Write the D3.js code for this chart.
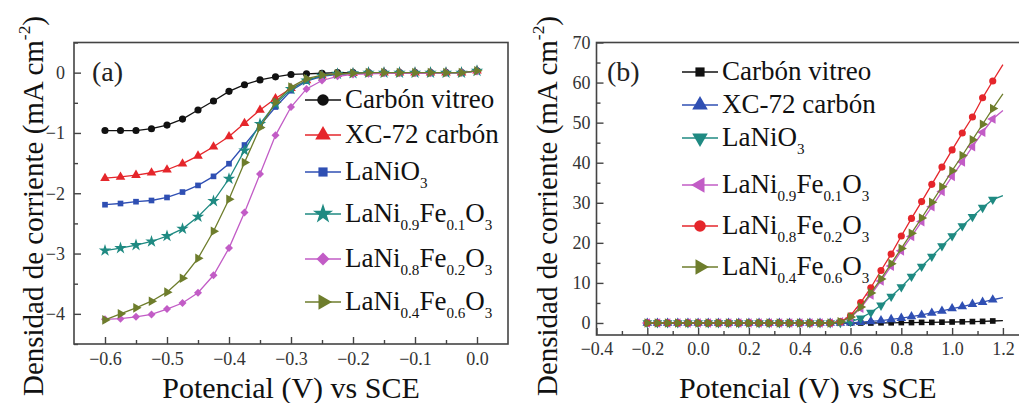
<!DOCTYPE html>
<html>
<head>
<meta charset="utf-8">
<script src="https://cdn.jsdelivr.net/npm/d3@7"></script>
<style>
  body { margin: 0; background: #fff; }
  svg, svg text { font-family: "Liberation Serif", "Times New Roman", Times, "DejaVu Serif", serif; }
</style>
</head>
<body>
<svg id="canvas" width="1019" height="403"></svg>
<script>
// panel (a) data
let xA = [-0.6, -0.575, -0.55, -0.525, -0.5, -0.475, -0.45, -0.425, -0.4, -0.375, -0.35, -0.325, -0.3,
          -0.275, -0.25, -0.225, -0.2, -0.175, -0.15, -0.125, -0.1, -0.075, -0.05, -0.025, 0.0]
let carbonA = [-0.96, -0.96, -0.96, -0.93, -0.87, -0.77, -0.62, -0.47, -0.31, -0.20, -0.12, -0.07, -0.03,
               -0.02, -0.01, 0, 0, 0, 0, 0, 0, 0, 0, 0, 0.03]
let xc72A = [-1.75, -1.73, -1.70, -1.66, -1.61, -1.51, -1.38, -1.23, -1.06, -0.84, -0.62, -0.43, -0.26,
             -0.13, -0.05, -0.02, -0.01, 0, 0, 0, 0, 0, 0, 0, 0.03]
let laniA = [-2.19, -2.17, -2.14, -2.12, -2.07, -1.98, -1.87, -1.72, -1.51, -1.20, -0.88, -0.57, -0.30,
             -0.14, -0.06, -0.03, -0.01, 0, 0, 0, 0, 0, 0, 0, 0.03]
let fe01A = [-2.95, -2.91, -2.86, -2.80, -2.71, -2.59, -2.39, -2.13, -1.76, -1.29, -0.85, -0.52, -0.27,
             -0.13, -0.05, -0.02, -0.01, 0, 0, 0, 0, 0, 0, 0, 0.03]
let fe02A = [-4.09, -4.08, -4.05, -4.01, -3.92, -3.82, -3.65, -3.36, -2.91, -2.32, -1.68, -1.04, -0.57,
             -0.27, -0.13, -0.06, -0.03, -0.02, -0.01, -0.01, -0.01, -0.01, 0, 0, 0.02]
let fe06A = [-4.10, -4.00, -3.90, -3.79, -3.64, -3.41, -3.08, -2.63, -2.10, -1.49, -0.91, -0.49, -0.24,
             -0.10, -0.04, -0.02, -0.01, 0, 0, 0, 0, 0, 0, 0, 0.03]

// panel (b) data
let xB = [-0.2, -0.16, -0.12, -0.08, -0.04, 0.0, 0.04, 0.08, 0.12, 0.16, 0.2, 0.24, 0.28, 0.32, 0.36, 0.4,
          0.44, 0.48, 0.52, 0.56, 0.6, 0.64, 0.68, 0.72, 0.76, 0.8, 0.84, 0.88, 0.92, 0.96, 1.0, 1.04,
          1.08, 1.12, 1.16, 1.2]
let carbonB = [0, 0, 0, 0, 0, 0, 0, 0, 0, 0, 0, 0, 0, 0, 0, 0, 0, 0, 0, 0,
               0, 0, 0, 0.05, 0.05, 0.1, 0.1, 0.15, 0.15, 0.2, 0.25, 0.3, 0.35, 0.4, 0.5, 0.6]
let xc72B = [0, 0, 0, 0, 0, 0, 0, 0, 0, 0, 0, 0, 0, 0, 0, 0, 0, 0, 0, 0,
             0.05, 0.2, 0.4, 0.6, 0.9, 1.2, 1.6, 2.0, 2.5, 3.0, 3.6, 4.1, 4.7, 5.2, 5.8, 6.3]
let laniB = [0, 0, 0, 0, 0, 0, 0, 0, 0, 0, 0, 0, 0, 0, 0, 0, 0, 0, 0, 0.1,
             0.3, 1.2, 2.6, 4.4, 6.6, 9.0, 11.6, 14.1, 16.6, 19.2, 21.7, 24.2, 26.5, 28.8, 30.8, 31.8]
let fe01B = [0, 0, 0, 0, 0, 0, 0, 0, 0, 0, 0, 0, 0, 0, 0, 0, 0, 0, 0, 0.3,
             1.3, 3.7, 7.0, 10.5, 14.2, 18.0, 21.6, 25.3, 29.0, 32.8, 36.6, 40.2, 44.0, 47.6, 50.9, 53.0]
let fe02B = [0, 0, 0, 0, 0, 0, 0, 0, 0, 0, 0, 0, 0, 0, 0, 0, 0, 0, 0, 0.3,
             1.8, 5.1, 8.8, 13.1, 17.2, 21.7, 26.1, 30.3, 34.6, 38.9, 43.2, 47.4, 51.4, 56.2, 60.4, 64.5]
let fe06B = [0, 0, 0, 0, 0, 0, 0, 0, 0, 0, 0, 0, 0, 0, 0, 0, 0, 0, 0, 0.3,
             1.5, 4.0, 7.5, 11.0, 14.8, 18.6, 22.4, 26.2, 30.1, 34.0, 38.0, 41.8, 45.7, 49.6, 53.5, 57.2]

let ticksAx = [-0.6, -0.5, -0.4, -0.3, -0.2, -0.1, 0.0]
let ticksAy = [0, -1, -2, -3, -4]
let ticksBx = [-0.4, -0.2, 0.0, 0.2, 0.4, 0.6, 0.8, 1.0, 1.2]
let ticksBy = [0, 10, 20, 30, 40, 50, 60, 70]

let serif = '"Liberation Serif", "Times New Roman", Times, "DejaVu Serif", serif'

let colors = {
    black: '#111111', red: '#e5262b', blue: '#2f4fb3', teal: '#1f8a82', purple: '#c25cc6', olive: '#6e7d2c'
}

let seriesA = [
    { name: ['Carbón vitreo'], y: carbonA, color: colors.black, shape: 'circle' },
    { name: ['XC-72 carbón'], y: xc72A, color: colors.red, shape: 'up' },
    { name: ['LaNiO', '3'], y: laniA, color: colors.blue, shape: 'square' },
    { name: ['LaNi', '0.9', 'Fe', '0.1', 'O', '3'], y: fe01A, color: colors.teal, shape: 'star' },
    { name: ['LaNi', '0.8', 'Fe', '0.2', 'O', '3'], y: fe02A, color: colors.purple, shape: 'diamond' },
    { name: ['LaNi', '0.4', 'Fe', '0.6', 'O', '3'], y: fe06A, color: colors.olive, shape: 'right' }
]
let seriesB = [
    { name: ['Carbón vitreo'], y: carbonB, color: colors.black, shape: 'square' },
    { name: ['XC-72 carbón'], y: xc72B, color: colors.blue, shape: 'up' },
    { name: ['LaNiO', '3'], y: laniB, color: colors.teal, shape: 'down' },
    { name: ['LaNi', '0.9', 'Fe', '0.1', 'O', '3'], y: fe01B, color: colors.purple, shape: 'left' },
    { name: ['LaNi', '0.8', 'Fe', '0.2', 'O', '3'], y: fe02B, color: colors.red, shape: 'circle' },
    { name: ['LaNi', '0.4', 'Fe', '0.6', 'O', '3'], y: fe06B, color: colors.olive, shape: 'right' }
]

let canvas = d3.select('#canvas')

let symbolFor = (shape, size) => {
    let type = d3.symbolCircle
    let rot = 0
    if (shape === 'square') type = d3.symbolSquare
    if (shape === 'star') type = d3.symbolStar
    if (shape === 'diamond') { type = d3.symbolSquare; rot = 45 }
    if (shape === 'up') type = d3.symbolTriangle
    if (shape === 'down') { type = d3.symbolTriangle; rot = 180 }
    if (shape === 'right') { type = d3.symbolTriangle; rot = 90 }
    if (shape === 'left') { type = d3.symbolTriangle; rot = -90 }
    if (shape === 'square' || shape === 'diamond') size = size * 0.8
    if (shape === 'star') size = size * 1.2
    return { path: d3.symbol().type(type).size(size)(), rot: rot }
}

let addName = (textSel, parts) => {
    parts.forEach((p, i) => {
        let sub = i % 2 === 1
        textSel.append('tspan')
            .attr('font-size', sub ? '0.56em' : null)
            .attr('dy', sub ? '0.5em' : (i > 0 ? '-0.28em' : null))
            .text(p)
    })
}

let drawPanel = (cfg) => {
    let g = canvas.append('g').attr('font-family', serif)
    let x = d3.scaleLinear().domain(cfg.xDomain).range([cfg.left, cfg.right])
    let y = d3.scaleLinear().domain(cfg.yDomain).range([cfg.bottom, cfg.top])

    // frame
    g.append('rect')
        .attr('x', cfg.left).attr('y', cfg.top)
        .attr('width', cfg.right - cfg.left).attr('height', cfg.bottom - cfg.top)
        .attr('fill', 'none').attr('stroke', '#444').attr('stroke-width', 1.6)

    // major ticks (inward) with labels, minor ticks without
    let xAxis = d3.axisBottom(x).tickValues(cfg.xTicks).tickSize(-7).tickPadding(cfg.xPad)
        .tickFormat(d3.format('.1f'))
    let xMinor = d3.axisBottom(x).tickValues(cfg.xMinor).tickSize(-4).tickFormat('')
    let yAxis = d3.axisLeft(y).tickValues(cfg.yTicks).tickSize(-7).tickPadding(cfg.yPad)
        .tickFormat(d3.format('d'))
    let yMinor = d3.axisLeft(y).tickValues(cfg.yMinor).tickSize(-4).tickFormat('')

    let axes = [
        [xAxis, `translate(0,${cfg.bottom})`],
        [xMinor, `translate(0,${cfg.bottom})`],
        [yAxis, `translate(${cfg.left},0)`],
        [yMinor, `translate(${cfg.left},0)`]
    ]
    axes.forEach(([ax, tr]) => {
        let a = g.append('g').attr('transform', tr).call(ax)
            .attr('font-family', serif)
        a.select('.domain').remove()
        a.selectAll('line').attr('stroke', '#444').attr('stroke-width', 1.4)
        a.selectAll('text').attr('font-size', 18).attr('fill', '#333')
    })

    let line = d3.line().x(d => x(d[0])).y(d => y(d[1]))
    cfg.series.forEach((s) => {
        let pts = cfg.xs.map((xv, i) => [xv, s.y[i]])
        g.append('path')
            .datum(pts)
            .attr('d', line)
            .attr('fill', 'none')
            .attr('stroke', s.color)
            .attr('stroke-width', 1.3)
        let sym = symbolFor(s.shape, 40)
        g.selectAll(null)
            .data(pts.slice(0, cfg.markCount))
            .enter()
            .append('path')
            .attr('d', sym.path)
            .attr('transform', d => `translate(${x(d[0])},${y(d[1])}) rotate(${sym.rot})`)
            .attr('fill', s.color)
    })

    // legend
    cfg.series.forEach((s, i) => {
        let ly = cfg.legendY[i]
        let row = g.append('g')
        row.append('line')
            .attr('x1', cfg.legendX).attr('x2', cfg.legendX + 36)
            .attr('y1', ly).attr('y2', ly)
            .attr('stroke', s.color).attr('stroke-width', 1.5)
        let sym = symbolFor(s.shape, 105)
        row.append('path')
            .attr('d', sym.path)
            .attr('transform', `translate(${cfg.legendX + 18},${ly}) rotate(${sym.rot})`)
            .attr('fill', s.color)
        let t = row.append('text')
            .attr('x', cfg.legendX + 40).attr('y', ly + 8)
            .attr('font-size', 27).attr('fill', '#111')
        addName(t, s.name)
    })

    g.append('text')
        .attr('x', cfg.labelX).attr('y', 81)
        .attr('font-size', 28).attr('fill', '#222')
        .text(cfg.label)

    g.append('text')
        .attr('x', (cfg.left + Math.min(cfg.right, 1019)) / 2).attr('y', 398)
        .attr('text-anchor', 'middle')
        .attr('font-size', 30).attr('fill', '#111')
        .text('Potencial (V) vs SCE')

    let yt = g.append('text')
        .attr('transform', `translate(${cfg.yTitleX},206) rotate(-90)`)
        .attr('text-anchor', 'middle')
        .attr('font-size', 29).attr('fill', '#111')
    yt.append('tspan').text('Densidad de corriente (mA cm')
    yt.append('tspan').attr('font-size', '0.6em').attr('dy', '-0.75em').text('-2')
    yt.append('tspan').attr('dy', '0.45em').text(')')
}

drawPanel({
    left: 74, right: 508, top: 42.5, bottom: 344,
    xDomain: [-0.65, 0.05], yDomain: [-4.5, 0.5],
    xTicks: ticksAx, yTicks: ticksAy,
    xMinor: [-0.55, -0.45, -0.35, -0.25, -0.15, -0.05],
    yMinor: [0.5, -0.5, -1.5, -2.5, -3.5, -4.5],
    xPad: 8, yPad: 9,
    xs: xA, series: seriesA, markCount: xA.length,
    legendX: 305, legendY: [100, 135, 172, 214, 259, 302],
    label: '(a)', labelX: 92, yTitleX: 43
})

drawPanel({
    left: 596.5, right: 1020.7, top: 42.5, bottom: 335,
    xDomain: [-0.4, 1.27], yDomain: [-3, 70],
    xTicks: ticksBx, yTicks: ticksBy,
    xMinor: [-0.3, -0.1, 0.1, 0.3, 0.5, 0.7, 0.9, 1.1],
    yMinor: [5, 15, 25, 35, 45, 55, 65],
    xPad: 7, yPad: 6,
    xs: xB, series: seriesB, markCount: xB.length - 1,
    legendX: 682, legendY: [72, 105, 138, 185, 226, 267],
    label: '(b)', labelX: 607, yTitleX: 557
})
</script>
</body>
</html>
